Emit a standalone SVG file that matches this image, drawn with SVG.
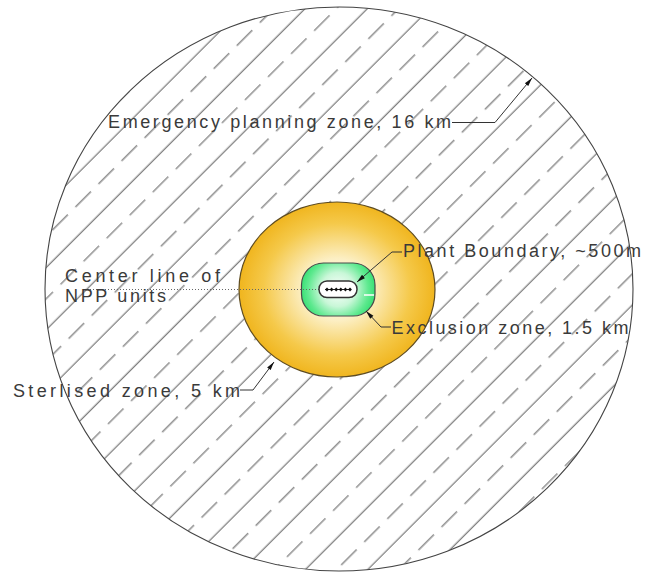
<svg xmlns="http://www.w3.org/2000/svg" width="645" height="572" viewBox="0 0 645 572">
  <style>
    .lbl { font-family: "Liberation Sans", Arial, sans-serif; font-size: 18px; fill: #3a3a3a; }
    .h { stroke: #555; stroke-width: 1; }
    .lead { fill: none; stroke: #333; stroke-width: 1; }
    .zone { stroke-width: 1.2; }
  </style>
  <defs>
    <!-- ANSI33-style hatch: solid line alternating with a dashed line, 45 degrees -->
    <pattern id="hatch" patternUnits="userSpaceOnUse" width="32.6" height="44.1" patternTransform="rotate(-45)">
      <line class="h" x1="-1" y1="1.3" x2="33.6" y2="1.3"/>
      <line class="h" x1="4.7" y1="23.4" x2="26.7" y2="23.4"/>
    </pattern>
    <radialGradient id="gold" cx="337" cy="289.5" r="98" gradientUnits="userSpaceOnUse" gradientTransform="translate(337 289.5) scale(1 0.9) translate(-337 -289.5)">
      <stop offset="0" stop-color="#fffdf2"/>
      <stop offset="0.35" stop-color="#fcefc4"/>
      <stop offset="0.75" stop-color="#f5c94a"/>
      <stop offset="1" stop-color="#f0b51e"/>
    </radialGradient>
    <radialGradient id="mint" cx="338" cy="289.5" r="38" gradientUnits="userSpaceOnUse">
      <stop offset="0" stop-color="#ffffff"/>
      <stop offset="0.45" stop-color="#c9f7d8"/>
      <stop offset="0.8" stop-color="#5ee98f"/>
      <stop offset="1" stop-color="#35df72"/>
    </radialGradient>
    <marker id="arr" markerUnits="userSpaceOnUse" markerWidth="10" markerHeight="6" viewBox="-9 -3 10 6" refX="0" refY="0" orient="auto">
      <path d="M0,0 L-8.5,-2.2 L-8.5,2.2 Z" fill="#111"/>
    </marker>
  </defs>

  <!-- Emergency planning zone: hatched disc -->
  <g id="epz">
    <ellipse cx="339" cy="289" rx="294" ry="282" fill="#fff"/>
    <ellipse cx="339" cy="289" rx="294" ry="282" fill="url(#hatch)" stroke="#444" stroke-width="1.1"/>
  </g>

  <!-- Sterilized zone -->
  <g id="sterilized">
    <ellipse class="zone" cx="337" cy="289.5" rx="98" ry="87.5" fill="url(#gold)" stroke="#5e4c22"/>
  </g>

  <!-- Exclusion zone -->
  <g id="exclusion">
    <rect class="zone" x="301.5" y="263" width="73.5" height="53" rx="22" ry="22" fill="url(#mint)" stroke="#4a4a4a"/>
    <line x1="364" y1="295" x2="374" y2="295" stroke="#fff" stroke-width="1.5"/>
  </g>

  <!-- Center line of the units -->
  <g id="centerline">
    <line x1="90" y1="289.5" x2="319" y2="289.5" stroke="#666" stroke-width="1" stroke-dasharray="1 2"/>
  </g>

  <!-- Plant boundary with the reactor units -->
  <g id="plant">
    <rect x="319" y="281" width="38" height="16.5" rx="8" ry="8" fill="#fff" stroke="#333" stroke-width="1.5"/>
    <line x1="325" y1="289.5" x2="351" y2="289.5" stroke="#222" stroke-width="1"/>
    <g fill="#111">
      <path d="M327,287.6 L328.9,289.5 L327,291.4 L325.1,289.5 Z"/>
      <path d="M331.6,287.6 L333.5,289.5 L331.6,291.4 L329.7,289.5 Z"/>
      <path d="M336.2,287.6 L338.1,289.5 L336.2,291.4 L334.3,289.5 Z"/>
      <path d="M340.8,287.6 L342.7,289.5 L340.8,291.4 L338.9,289.5 Z"/>
      <path d="M345.4,287.6 L347.3,289.5 L345.4,291.4 L343.5,289.5 Z"/>
      <path d="M350,287.6 L351.9,289.5 L350,291.4 L348.1,289.5 Z"/>
    </g>
  </g>

  <!-- Leaders -->
  <g id="connectors">
    <polyline class="lead" points="452,122.5 495,122.5 532,78" marker-end="url(#arr)"/>
    <polyline class="lead" points="402,252 392,252 357,282" marker-end="url(#arr)"/>
    <polyline class="lead" points="391,327 381,327 366,311" marker-end="url(#arr)"/>
    <polyline class="lead" points="240,390 253,390 274,362" marker-end="url(#arr)"/>
  </g>

  <!-- Labels -->
  <g id="labels">
    <text class="lbl" x="108" y="128" textLength="343" lengthAdjust="spacing">Emergency planning zone, 16 km</text>
    <text class="lbl" x="403" y="257" textLength="238" lengthAdjust="spacing">Plant Boundary, ~500m</text>
    <text class="lbl" x="391.5" y="334" textLength="237" lengthAdjust="spacing">Exclusion zone, 1.5 km</text>
    <text class="lbl" x="13" y="397" textLength="227" lengthAdjust="spacing">Sterlised zone, 5 km</text>
    <text class="lbl" x="65" y="282" textLength="155" lengthAdjust="spacing">Center line of</text>
    <text class="lbl" x="65" y="302" textLength="101" lengthAdjust="spacing">NPP units</text>
  </g>
</svg>
